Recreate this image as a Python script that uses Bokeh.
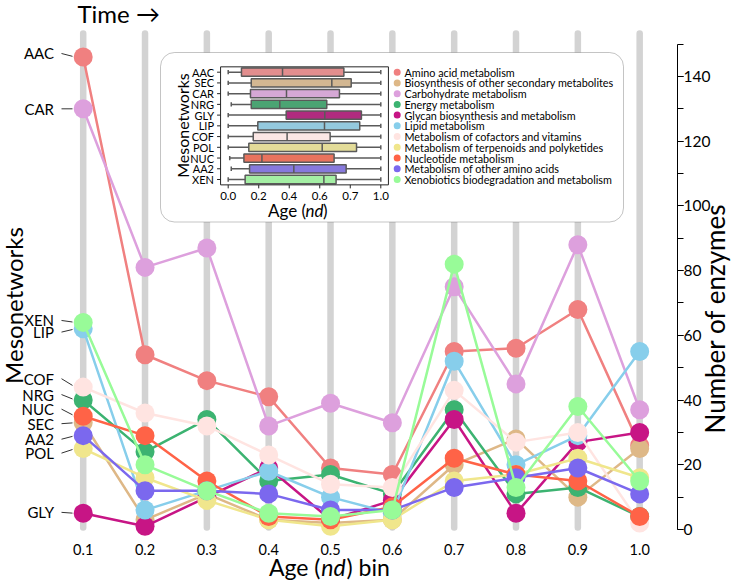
import math
import colorsys
from bokeh.plotting import figure
from bokeh.models import Range1d, SingleIntervalTicker, Label, BoxAnnotation
from bokeh.core.properties import value
from bokeh.embed import file_html
from bokeh.resources import INLINE

# ---------------- data ----------------
bins = [0.1, 0.2, 0.3, 0.4, 0.5, 0.6, 0.7, 0.8, 0.9, 1.0]
bin_labels = ["0.1", "0.2", "0.3", "0.4", "0.5", "0.6", "0.7", "0.8", "0.9", "1.0"]

codes = ["AAC", "SEC", "CAR", "NRG", "GLY", "LIP", "COF", "POL", "NUC", "AA2", "XEN"]
names = ["Amino acid metabolism",
         "Biosynthesis of other secondary metabolites",
         "Carbohydrate metabolism",
         "Energy metabolism",
         "Glycan biosynthesis and metabolism",
         "Lipid metabolism",
         "Metabolism of cofactors and vitamins",
         "Metabolism of terpenoids and polyketides",
         "Nucleotide metabolism",
         "Metabolism of other amino acids",
         "Xenobiotics biodegradation and metabolism"]

aac = [146, 54, 46, 41, 19, 17, 55, 56, 68, 26]
sec = [33, 3, 11, 3, 2, 3, 20, 28, 10, 25]
car = [130, 81, 87, 32, 39, 33, 75, 45, 88, 37]
nrg = [40, 24, 34, 15, 17, 11, 37, 11, 13, 4]
gly = [5, 1, 10, 19, 3, 9, 34, 5, 27, 30]
lip = [62, 6, 12, 18, 10, 5, 52, 20, 29, 55]
cof = [44, 36, 32, 23, 14, 13, 43, 27, 30, 2]
pol = [25, 16, 9, 3, 1, 3, 15, 17, 22, 16]
nuc = [35, 29, 15, 4, 3, 7, 22, 17, 15, 4]
aa2 = [29, 12, 12, 11, 6, 6, 13, 16, 19, 11]
xen = [64, 20, 12, 5, 4, 6, 82, 13, 38, 15]
series = [aac, sec, car, nrg, gly, lip, cof, pol, nuc, aa2, xen]

# inset box plot (age, nd)
box_lo = [0.0, 0.0, 0.0, 0.02, 0.0, 0.0, 0.0, 0.0, 0.01, 0.02, 0.0]
box_q1 = [0.087, 0.151, 0.146, 0.151, 0.380, 0.194, 0.164, 0.135, 0.103, 0.140, 0.111]
box_med = [0.356, 0.679, 0.382, 0.338, 0.633, 0.631, 0.386, 0.616, 0.221, 0.430, 0.627]
box_q3 = [0.758, 0.806, 0.729, 0.646, 0.873, 0.862, 0.668, 0.841, 0.694, 0.773, 0.707]
box_hi = [1.0] * 11
inset_ticks = [0.0, 0.2, 0.4, 0.6, 0.8, 1.0]
inset_tick_labels = ["0.0", "0.2", "0.4", "0.6", "0.7", "1.0"]

# ---------------- style ----------------
colors = ["#F08080", "#DEB887", "#DDA0DD", "#3CB371", "#C71585", "#87CEEB",
          "#FFE4E1", "#F0E68C", "#FF6347", "#7B68EE", "#98FB98"]
FONT = "Lato"
EDGE = "#5a5a5a"


def desat(hexc, prop=0.75):
    r, g, b = [int(hexc[i:i + 2], 16) / 255 for i in (1, 3, 5)]
    h, l, s = colorsys.rgb_to_hls(r, g, b)
    r, g, b = colorsys.hls_to_rgb(h, l, s * prop)
    return "#%02x%02x%02x" % tuple(int(round(c * 255)) for c in (r, g, b))


box_colors = [desat(c) for c in colors]

# ---------------- layout (canvas pixels) ----------------
W, H = 740, 580
AXIS_PX = 677
X0_PX, XSCALE = 82.7, 618.3       # px of first bin, px per unit
Y0_PX, YSCALE = 529.0, 3.236      # px of zero count, px per count
U0_PX, USCALE = 227.7, 152.6      # inset: px of age 0, px per unit age
I0_PX, ISCALE = 71.7, 10.73       # inset: px of first row, px per row


def px2x(px):
    return 0.1 + (px - X0_PX) / XSCALE


def py2y(py):
    return (Y0_PX - py) / YSCALE


def px2u(px):
    return (px - U0_PX) / USCALE


def py2i(py):
    return (py - I0_PX) / ISCALE


p = figure(width=W, height=H,
           x_range=Range1d(px2x(0), px2x(W)),
           y_range=Range1d(py2y(H), py2y(0)),
           x_axis_location=None, y_axis_location="right",
           output_backend="svg", toolbar_location=None,
           min_border=0)
p.outline_line_color = None
p.xgrid.visible = False
p.ygrid.visible = False
p.background_fill_color = "white"
p.border_fill_color = "white"

p.extra_x_ranges = {"ix": Range1d(px2u(0), px2u(W))}
p.extra_y_ranges = {"iy": Range1d(py2i(H), py2i(0))}

# right count axis, pinned at its place inside the canvas
ya = p.yaxis[0]
ya.fixed_location = px2x(AXIS_PX)
ya.ticker = SingleIntervalTicker(interval=20, num_minor_ticks=2)
ya.bounds = (0, 150)
ya.axis_line_color = "black"
ya.major_tick_line_color = "black"
ya.minor_tick_line_color = "black"
ya.major_tick_in = 0
ya.major_tick_out = 6
ya.minor_tick_in = 0
ya.minor_tick_out = 6
ya.major_label_text_font = FONT
ya.major_label_text_font_size = "15.5px"
ya.major_label_text_color = "black"
ya.major_label_standoff = 0

# grey bin bars
p.segment(x0=bins, y0=[py2y(527)] * len(bins), x1=bins, y1=[py2y(33)] * len(bins),
          line_color="#d3d3d3", line_width=6.5, line_cap="round", level="image")

# series
for vals, col in zip(series, colors):
    p.line(bins, vals, line_color=col, line_width=2.5)
    p.scatter(bins, vals, size=19, fill_color=col, line_color=None)

# bottom tick labels
p.text(x=bins, y=[py2y(549)] * len(bins), text=bin_labels,
       text_font=value(FONT), text_font_size="14.5px", text_color="black",
       text_align="center", text_baseline="middle")

# left-side labels
label_pos = [147.1, 32.7, 130.0, 41.7, 5.3, 61.0, 46.6, 23.6, 37.2, 27.9, 64.6]
first_vals = [s[0] for s in series]
p.text(x=[px2x(53.5)] * len(codes), y=label_pos, text=codes,
       text_font=value(FONT), text_font_size="15px", text_color="black",
       text_align="right", text_baseline="middle")
p.segment(x0=[px2x(61)] * len(codes), y0=label_pos,
          x1=[px2x(72)] * len(codes),
          y1=[lp + 0.8 * (fv - lp) for lp, fv in zip(label_pos, first_vals)],
          line_color="#333333", line_width=1)


def lab(px, py, text, size, align="center", baseline="middle", angle=0.0, style="normal"):
    p.add_layout(Label(x=px2x(px), y=py2y(py), text=text, angle=angle,
                       text_font=FONT, text_font_size=size, text_font_style=style,
                       text_color="black", text_align=align, text_baseline=baseline))


# main texts
lab(77, 13, "Time \u2192", "24px", align="left")
lab(12.5, 305, "Mesonetworks", "24px", angle=math.pi / 2)
lab(714, 318, "Number of enzymes", "26px", angle=math.pi / 2)
ND_X, AGE_Y = 333, 566
lab(ND_X - 13, AGE_Y, "Age (", "23px", align="right")
lab(ND_X, AGE_Y, "nd", "23px", style="italic")
lab(ND_X + 13, AGE_Y, ") bin", "23px", align="left")

# ---------------- inset ----------------
p.add_layout(BoxAnnotation(left=px2x(160), right=px2x(623),
                           bottom=py2y(221.5), top=py2y(52),
                           fill_color="white", fill_alpha=1.0,
                           line_color="#3a3a3a", line_width=1,
                           border_radius=14, level="underlay"))

R = dict(x_range_name="ix", y_range_name="iy")
idx = list(range(len(codes)))
n = len(codes)
U_L, U_R = -0.05, 1.05
I_T, I_B = -0.5, n - 0.5
TICK_U = 3.5 / USCALE
TICK_I = 3.5 / ISCALE
HALF = 0.385
CAP = 0.2

# boxes
p.quad(left=box_q1, right=box_q3, top=[i - HALF for i in idx], bottom=[i + HALF for i in idx],
       fill_color=box_colors, line_color=EDGE, line_width=1.5, **R)
p.segment(x0=box_med, y0=[i - HALF for i in idx], x1=box_med, y1=[i + HALF for i in idx],
          line_color=EDGE, line_width=1.5, **R)
p.segment(x0=box_lo, y0=idx, x1=box_q1, y1=idx, line_color=EDGE, line_width=1.5, **R)
p.segment(x0=box_q3, y0=idx, x1=box_hi, y1=idx, line_color=EDGE, line_width=1.5, **R)
p.segment(x0=box_lo, y0=[i - CAP for i in idx], x1=box_lo, y1=[i + CAP for i in idx],
          line_color=EDGE, line_width=1.5, **R)
p.segment(x0=box_hi, y0=[i - CAP for i in idx], x1=box_hi, y1=[i + CAP for i in idx],
          line_color=EDGE, line_width=1.5, **R)

# inset frame, ticks, tick labels
p.quad(left=[U_L], right=[U_R], top=[I_T], bottom=[I_B], fill_color=None,
       line_color="#262626", line_width=1, **R)
p.segment(x0=[U_L - TICK_U] * n, y0=idx, x1=[U_L] * n, y1=idx,
          line_color="#262626", line_width=1, **R)
p.segment(x0=inset_ticks, y0=[I_B] * len(inset_ticks), x1=inset_ticks,
          y1=[I_B + TICK_I] * len(inset_ticks), line_color="#262626", line_width=1, **R)
p.text(x=[px2u(213.5)] * n, y=idx, text=codes, text_font=value(FONT), text_font_size="11px",
       text_color="black", text_align="right", text_baseline="middle", **R)
p.text(x=inset_ticks, y=[py2i(195.5)] * len(inset_ticks), text=inset_tick_labels,
       text_font=value(FONT), text_font_size="11.5px", text_color="black",
       text_align="center", text_baseline="middle", **R)

# legend
p.scatter(x=[px2u(396.7)] * n, y=idx, size=7, fill_color=colors, line_color=None, **R)
p.text(x=[px2u(404)] * n, y=idx, text=names, text_font=value(FONT), text_font_size="10.8px",
       text_color="black", text_align="left", text_baseline="middle", **R)

# inset axis titles
lab(182, 125, "Mesonetworks", "16px", angle=math.pi / 2)
IND_X, IAGE_Y = 314, 210
lab(IND_X - 8.5, IAGE_Y, "Age (", "17px", align="right")
lab(IND_X, IAGE_Y, "nd", "17px", style="italic")
lab(IND_X + 8.5, IAGE_Y, ")", "17px", align="left")

open("out.html", "w").write(file_html(p, INLINE))
